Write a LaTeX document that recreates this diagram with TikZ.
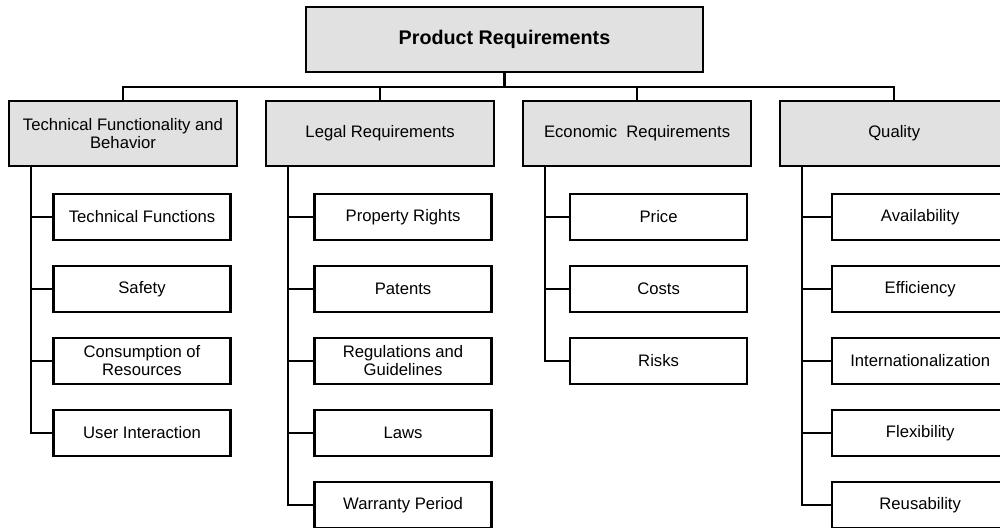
\documentclass[tikz,border=0pt]{standalone}
\usepackage{fontspec}
\setmainfont{Liberation Sans}
\usetikzlibrary{positioning}
\definecolor{boxgray}{RGB}{225,225,225}
\tikzset{
  root/.style={
    draw, line width=1.8pt, fill=boxgray, minimum width=297.75pt,
    minimum height=48.75pt, font=\fontsize{14.8}{16}\selectfont\bfseries
  },
  category/.style={
    draw, line width=1.8pt, fill=boxgray, minimum width=171pt,
    minimum height=48.75pt, inner sep=2pt, align=center,
    font=\fontsize{12.5}{13.5}\selectfont
  },
  item/.style={
    draw, line width=1.8pt, fill=white, minimum width=132.75pt,
    minimum height=34.5pt, inner sep=2pt, align=center,
    font=\fontsize{12.5}{13.5}\selectfont
  },
  link/.style={draw, line width=1.8pt},
}

\begin{document}
\begin{tikzpicture}[x=0.75pt, y=-0.75pt, node distance=20pt]
  \useasboundingbox (0,0) rectangle (1000,528);

  % top level
  \node[root] (req) at (504.5,39.5) {Product Requirements};
  \coordinate (bus) at (0,87);

  % categories
  \node[category] (tech) at (123,133.5) {Technical Functionality and\\Behavior};
  \node[category, right=of tech] (legal) {Legal Requirements};
  \node[category, right=of legal] (econ) {Economic~ Requirements};
  \node[category, right=of econ] (qual) {Quality};

  \draw[link] (req.south) -- (req.south |- bus);
  \draw[link] (tech.north) -- (tech.north |- bus) -- (qual.north |- bus) -- (qual.north);
  \draw[link] (legal.north) -- (legal.north |- bus);
  \draw[link] (econ.north) -- (econ.north |- bus);

  % technical functionality
  \node[item, below=19.2pt of tech, xshift=14.25pt] (techfun) {Technical Functions};
  \node[item, below=17.7pt of techfun] (safety) {Safety};
  \node[item, below=17.7pt of safety] (consump) {Consumption of\\Resources};
  \node[item, below=17.7pt of consump] (userint) {User Interaction};

  % legal
  \node[item, below=19.2pt of legal, xshift=17.25pt] (property) {Property Rights};
  \node[item, below=17.7pt of property] (patents) {Patents};
  \node[item, below=17.7pt of patents] (regul) {Regulations and\\Guidelines};
  \node[item, below=17.7pt of regul] (laws) {Laws};
  \node[item, below=17.7pt of laws] (warranty) {Warranty Period};

  % economic
  \node[item, below=19.2pt of econ, xshift=16.1pt] (price) {Price};
  \node[item, below=17.7pt of price] (costs) {Costs};
  \node[item, below=17.7pt of costs] (risks) {Risks};

  % quality
  \node[item, below=19.2pt of qual, xshift=19.5pt] (avail) {Availability};
  \node[item, below=17.7pt of avail] (effic) {Efficiency};
  \node[item, below=17.7pt of effic] (intl) {Internationalization};
  \node[item, below=17.7pt of intl] (flex) {Flexibility};
  \node[item, below=17.7pt of flex] (reuse) {Reusability};

  % rails
  \coordinate (techrail) at ([xshift=17.25pt]tech.south west);
  \coordinate (legalrail) at ([xshift=17.25pt]legal.south west);
  \coordinate (econrail) at ([xshift=17.25pt]econ.south west);
  \coordinate (qualrail) at ([xshift=17.25pt]qual.south west);

  \draw[link] (techrail) |- (userint.west);
  \foreach \n in {techfun,safety,consump}
    \draw[link] (techrail |- \n.west) -- (\n.west);

  \draw[link] (legalrail) |- (warranty.west);
  \foreach \n in {property,patents,regul,laws}
    \draw[link] (legalrail |- \n.west) -- (\n.west);

  \draw[link] (econrail) |- (risks.west);
  \foreach \n in {price,costs}
    \draw[link] (econrail |- \n.west) -- (\n.west);

  \draw[link] (qualrail) |- (reuse.west);
  \foreach \n in {avail,effic,intl,flex}
    \draw[link] (qualrail |- \n.west) -- (\n.west);
\end{tikzpicture}
\end{document}
